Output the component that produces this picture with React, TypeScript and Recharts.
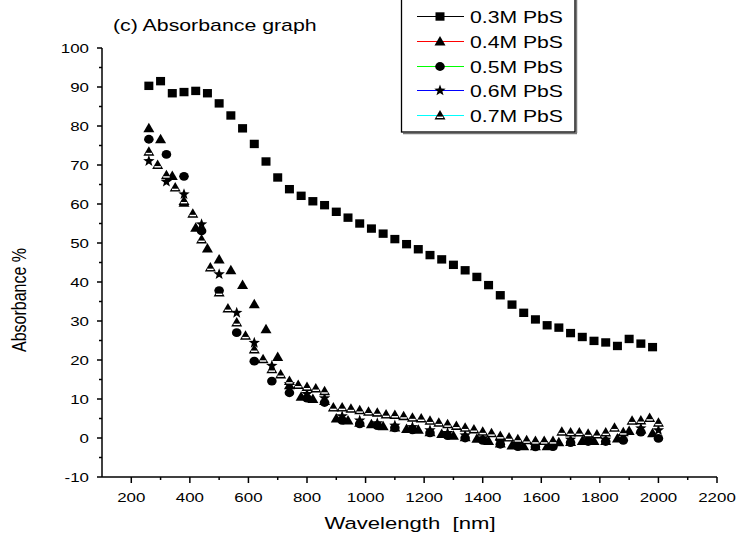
import React from 'react';
import { ScatterChart, Scatter, XAxis, YAxis } from 'recharts';

// Wavelength grids (nm)
const wl40 = [260, 300, 340, 380, 420, 460, 500, 540, 580, 620, 660, 700, 740, 780, 820, 860, 900, 940, 980, 1020, 1060, 1100, 1140, 1180, 1220, 1260, 1300, 1340, 1380, 1420, 1460, 1500, 1540, 1580, 1620, 1660, 1700, 1740, 1780, 1820, 1860, 1900, 1940, 1980];
const wl60 = [260, 320, 380, 440, 500, 560, 620, 680, 740, 800, 860, 920, 980, 1040, 1100, 1160, 1220, 1280, 1340, 1400, 1460, 1520, 1580, 1640, 1700, 1760, 1820, 1880, 1940, 2000];
const wl30 = [260, 290, 320, 350, 380, 410, 440, 470, 500, 530, 560, 590, 620, 650, 680, 710, 740, 770, 800, 830, 860, 890, 920, 950, 980, 1010, 1040, 1070, 1100, 1130, 1160, 1190, 1220, 1250, 1280, 1310, 1340, 1370, 1400, 1430, 1460, 1490, 1520, 1550, 1580, 1610, 1640, 1670, 1700, 1730, 1760, 1790, 1820, 1850, 1880, 1910, 1940, 1970, 2000];

// Absorbance % per series
const abs03 = [90.3, 91.5, 88.4, 88.7, 89.0, 88.4, 85.8, 82.7, 79.4, 75.4, 70.9, 66.8, 63.8, 62.1, 60.7, 59.7, 58.0, 56.5, 55.0, 53.7, 52.4, 51.0, 49.7, 48.4, 46.9, 45.8, 44.4, 43.0, 41.3, 39.2, 36.6, 34.2, 32.1, 30.4, 28.9, 28.3, 26.9, 25.9, 24.9, 24.5, 23.6, 25.4, 24.2, 23.3];
const abs04 = [79.4, 76.6, 67.2, 60.3, 53.9, 48.6, 45.8, 43.0, 39.2, 34.3, 27.9, 20.8, 13.5, 10.6, 10.0, 9.5, 5.0, 4.5, 3.9, 3.5, 3.0, 2.7, 2.3, 2.1, 1.5, 1.0, 0.6, 0.2, -0.2, -0.8, -1.4, -1.9, -2.1, -2.1, -2.1, -1.1, -1.0, -0.8, -0.8, -0.8, -0.1, 1.8, 2.2, 1.2];
const abs05 = [76.6, 72.7, 67.1, 53.1, 37.8, 27.0, 19.7, 14.6, 11.6, 10.2, 9.1, 4.5, 3.6, 3.2, 2.6, 2.1, 1.3, 0.6, 0.0, -0.6, -1.6, -2.2, -2.3, -2.2, -1.2, -0.9, -0.9, -0.6, 1.5, -0.1];
const abs06 = [71.0, 65.7, 62.5, 54.8, 42.0, 32.1, 24.4, 18.5, 13.8, 11.3, 10.2, 5.6, 4.5, 3.8, 3.2, 2.8, 2.0, 1.3, 0.7, -0.1, -1.0, -1.6, -1.8, -1.7, -0.4, -0.3, -0.4, 0.5, 2.5, 2.0];
const abs07 = [73.4, 70.0, 67.4, 64.2, 60.8, 57.5, 50.9, 43.7, 37.3, 33.2, 29.6, 26.2, 22.7, 20.2, 17.6, 16.3, 14.6, 13.6, 13.1, 12.7, 12.0, 7.8, 7.8, 7.5, 7.1, 6.7, 6.5, 6.0, 5.9, 5.6, 5.2, 5.0, 4.4, 3.9, 3.5, 3.1, 2.6, 2.2, 1.6, 1.2, 0.5, 0.1, -0.3, -0.6, -0.8, -0.8, -0.8, 1.6, 1.4, 1.4, 1.1, 0.9, 1.4, 2.6, 1.5, 4.4, 4.5, 5.1, 3.9];

const seriesNames = ['0.3M PbS', '0.4M PbS', '0.5M PbS', '0.6M PbS', '0.7M PbS'];
const legendColors = ['#000000', '#ff0000', '#00ff00', '#0000ff', '#00ffff'];
const xTicks = [100, 200, 300, 400, 500, 600, 700, 800, 900, 1000, 1100, 1200, 1300, 1400, 1500, 1600, 1700, 1800, 1900, 2000, 2100, 2200];
const yTicks = [-10, -5, 0, 5, 10, 15, 20, 25, 30, 35, 40, 45, 50, 55, 60, 65, 70, 75, 80, 85, 90, 95, 100];

const toPts = (xs: number[], ys: number[]) => xs.map((x, i) => ({ x, y: ys[i] }));
const d03 = toPts(wl40, abs03);
const d04 = toPts(wl40, abs04);
const d05 = toPts(wl60, abs05);
const d06 = toPts(wl60, abs06);
const d07 = toPts(wl30, abs07);

const FONT = '"Liberation Sans", Arial, sans-serif';
const SX = 1.3;

const Square = ({ cx, cy }: any) => <rect x={cx - 4.5} y={cy - 4.2} width={9} height={8.4} fill="#000" />;
const TriFill = ({ cx, cy }: any) => (
  <polygon points={`${cx},${cy - 5.5} ${cx - 5.5},${cy + 4} ${cx + 5.5},${cy + 4}`} fill="#000" />
);
const Dot = ({ cx, cy }: any) => <ellipse cx={cx} cy={cy} rx={4.8} ry={4.4} fill="#000" />;
const Star = ({ cx, cy }: any) => {
  const pts: string[] = [];
  for (let i = 0; i < 10; i++) {
    const r = i % 2 === 0 ? 6 : 2.5;
    const a = -Math.PI / 2 + (i * Math.PI) / 5;
    pts.push(`${cx + r * Math.cos(a)},${cy + r * Math.sin(a)}`);
  }
  return <polygon points={pts.join(' ')} fill="#000" />;
};
const TriOpen = ({ cx, cy }: any) => (
  <g>
    <polygon points={`${cx},${cy - 5.5} ${cx - 5.5},${cy + 4} ${cx + 5.5},${cy + 4}`} fill="#000" />
    <line x1={cx - 3.2} y1={cy + 1.8} x2={cx + 3.2} y2={cy + 1.8} stroke="#fff" strokeWidth={1.4} />
  </g>
);
const markers = [Square, TriFill, Dot, Star, TriOpen];

const XTick = (props: any) => {
  const { x, y, payload } = props;
  const v = payload.value;
  if (v === 100) return <g />;
  const major = v % 200 === 0;
  return (
    <g>
      <line x1={x} y1={y} x2={x} y2={y + (major ? 6 : 3)} stroke="#000" strokeWidth={1.5} />
      {major && (
        <text transform={`translate(${x},${y + 25}) scale(${SX},1)`} textAnchor="middle" fontSize={13} fontFamily={FONT} fill="#000">
          {v}
        </text>
      )}
    </g>
  );
};

const YTick = (props: any) => {
  const { x, y, payload } = props;
  const v = payload.value;
  const major = v % 10 === 0;
  return (
    <g>
      <line x1={x} y1={y} x2={x - (major ? 5 : 3)} y2={y} stroke="#000" strokeWidth={1.5} />
      {major && (
        <text transform={`translate(${x - 13},${y + 4.6}) scale(${SX},1)`} textAnchor="end" fontSize={13} fontFamily={FONT} fill="#000">
          {v}
        </text>
      )}
    </g>
  );
};

const Overlay = () => {
  const rowY = [16.5, 41.5, 66.5, 90.5, 115.5];
  return (
    <svg width={740} height={541} style={{ position: 'absolute', left: 0, top: 0, pointerEvents: 'none' }}>
      <text transform={`translate(113,31) scale(${SX},1)`} fontSize={16.4} fontFamily={FONT} fill="#000">
        (c) Absorbance graph
      </text>
      <text transform={`translate(410,529) scale(${SX},1)`} textAnchor="middle" fontSize={17} fontFamily={FONT} fill="#000" style={{ whiteSpace: 'pre' }}>
        {'Wavelength  [nm]'}
      </text>
      <text transform={`translate(26,300) scale(${SX},1) rotate(-90)`} textAnchor="middle" fontSize={16} fontFamily={FONT} fill="#000">
        Absorbance %
      </text>
      <line x1={403} y1={133.5} x2={577} y2={133.5} stroke="#777" strokeWidth={1.5} />
      <line x1={576.5} y1={0} x2={576.5} y2={133} stroke="#777" strokeWidth={1.5} />
      <rect x={401.5} y={-3} width={173.5} height={135} fill="#fff" stroke="#000" strokeWidth={1.3} />
      {seriesNames.map((name, i) => {
        const cy = rowY[i];
        const M = markers[i];
        return (
          <g key={name}>
            <line x1={417} y1={cy} x2={464} y2={cy} stroke={legendColors[i]} strokeWidth={1} shapeRendering="crispEdges" />
            <M cx={440} cy={cy} />
            <text transform={`translate(470,${cy + 6}) scale(${SX},1)`} fontSize={16.3} fontFamily={FONT} fill="#000">
              {name}
            </text>
          </g>
        );
      })}
    </svg>
  );
};

export default function App() {
  return (
    <div style={{ position: 'absolute', left: 0, top: 0, width: 740, height: 541, background: '#fff' }}>
      <ScatterChart width={740} height={541} margin={{ top: 48, right: 23, bottom: 0, left: 0 }}>
        <XAxis
          type="number"
          dataKey="x"
          domain={[100, 2200]}
          ticks={xTicks}
          interval={0}
          height={64}
          tickSize={0}
          tickMargin={0}
          tickLine={false}
          tick={<XTick />}
          axisLine={{ stroke: '#000', strokeWidth: 1.5 }}
          allowDataOverflow
        />
        <YAxis
          type="number"
          dataKey="y"
          domain={[-10, 100]}
          ticks={yTicks}
          interval={0}
          width={102}
          tickSize={0}
          tickMargin={0}
          tickLine={false}
          tick={<YTick />}
          axisLine={{ stroke: '#000', strokeWidth: 1.5 }}
          allowDataOverflow
        />
        <Scatter name={seriesNames[0]} data={d03} isAnimationActive={false} shape={(p: any) => <Square cx={p.cx} cy={p.cy} />} />
        <Scatter name={seriesNames[1]} data={d04} isAnimationActive={false} shape={(p: any) => <TriFill cx={p.cx} cy={p.cy} />} />
        <Scatter name={seriesNames[2]} data={d05} isAnimationActive={false} shape={(p: any) => <Dot cx={p.cx} cy={p.cy} />} />
        <Scatter name={seriesNames[3]} data={d06} isAnimationActive={false} shape={(p: any) => <Star cx={p.cx} cy={p.cy} />} />
        <Scatter name={seriesNames[4]} data={d07} isAnimationActive={false} shape={(p: any) => <TriOpen cx={p.cx} cy={p.cy} />} />
      </ScatterChart>
      <Overlay />
    </div>
  );
}
